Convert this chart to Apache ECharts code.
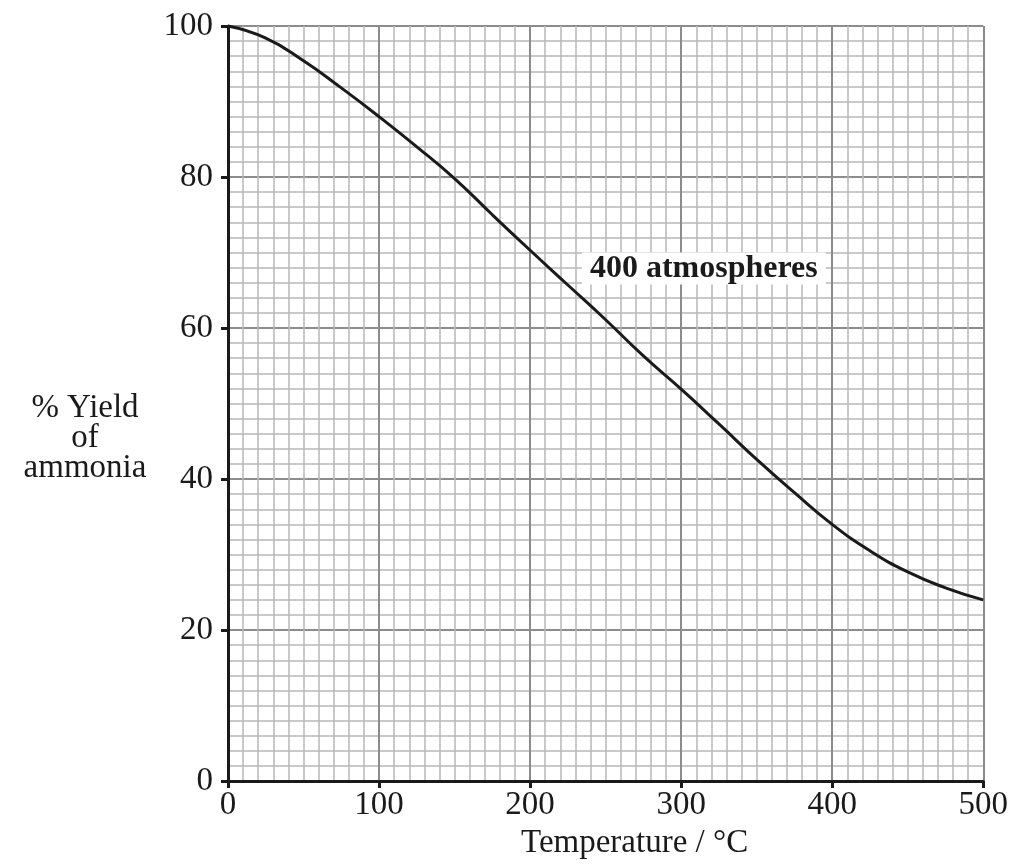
<!DOCTYPE html>
<html>
<head>
<meta charset="utf-8">
<script src="https://cdn.jsdelivr.net/npm/echarts@6/dist/echarts.min.js"></script>
<style>html,body{margin:0;padding:0;background:#fff;}#c{width:1011px;height:865px;}</style>
</head>
<body>
<div id="c"></div>
<script>
const temperature = [0, 25, 50, 75, 100, 125, 150, 175, 200, 225, 250, 275, 300, 325, 350, 375, 400, 425, 450, 475, 500];
const yieldPct = [100, 98.4, 95.4, 91.8, 88.0, 84.0, 79.8, 75.0, 70.3, 65.7, 61.1, 56.3, 51.9, 47.3, 42.6, 38.2, 34.0, 30.5, 27.7, 25.6, 24.0];
const xTicks = [0, 100, 200, 300, 400, 500];
const yTicks = [0, 20, 40, 60, 80, 100];
const curveLabel = '400 atmospheres';
const labelAt = [315, 67.9];
const xName = 'Temperature / °C';
const yName = '% Yield\nof\nammonia';

const serif = '"Liberation Serif", "Times New Roman", serif';
const chart = echarts.init(document.getElementById('c'));
chart.setOption({
  animation: false,
  backgroundColor: '#fff',
  grid: { left: 228, right: 27, top: 26, bottom: 83 },
  xAxis: {
    type: 'value', min: xTicks[0], max: xTicks[xTicks.length - 1], interval: 100,
    axisLine: { show: true, onZero: false, lineStyle: { color: '#1a1a1a', width: 3 } },
    axisTick: { show: true, length: 7, lineStyle: { color: '#1a1a1a', width: 3 } },
    axisLabel: { color: '#1a1a1a', fontFamily: serif, fontSize: 33, margin: 8 },
    splitLine: { show: true, lineStyle: { color: '#8c8c8c', width: 2 } },
    minorTick: { show: false, splitNumber: 10 },
    minorSplitLine: { show: true, lineStyle: { color: '#b8b8b8', width: 1.5 } },
    name: xName, nameLocation: 'middle', nameGap: 52,
    nameTextStyle: { color: '#1a1a1a', fontFamily: serif, fontSize: 33, verticalAlign: 'middle', padding: [0, 0, 0, 58] }
  },
  yAxis: {
    type: 'value', min: yTicks[0], max: yTicks[yTicks.length - 1], interval: 20,
    axisLine: { show: true, onZero: false, lineStyle: { color: '#1a1a1a', width: 3 } },
    axisTick: { show: true, length: 7, lineStyle: { color: '#1a1a1a', width: 3 } },
    axisLabel: { color: '#1a1a1a', fontFamily: serif, fontSize: 33, margin: 15 },
    splitLine: { show: true, lineStyle: { color: '#8c8c8c', width: 2 } },
    minorTick: { show: false, splitNumber: 10 },
    minorSplitLine: { show: true, lineStyle: { color: '#b8b8b8', width: 1.5 } }
  },
  graphic: [{
    type: 'text', x: 85, y: 393,
    style: { text: yName, fill: '#1a1a1a', font: '33px ' + serif, lineHeight: 30, align: 'center', verticalAlign: 'top' }
  }],
  series: [{
    type: 'line',
    data: temperature.map((t, i) => [t, yieldPct[i]]),
    smooth: 0.5,
    showSymbol: false,
    lineStyle: { color: '#1a1a1a', width: 3 },
    z: 5
  }, {
    type: 'scatter',
    data: [labelAt],
    symbolSize: 0,
    itemStyle: { opacity: 1 },
    z: 6,
    label: {
      show: true, position: 'inside',
      formatter: () => curveLabel,
      fontFamily: serif, fontWeight: 'bold', fontSize: 32, color: '#1a1a1a', opacity: 1,
      backgroundColor: '#fff', padding: [0, 8, 0, 8]
    }
  }]
});
</script>
</body>
</html>
